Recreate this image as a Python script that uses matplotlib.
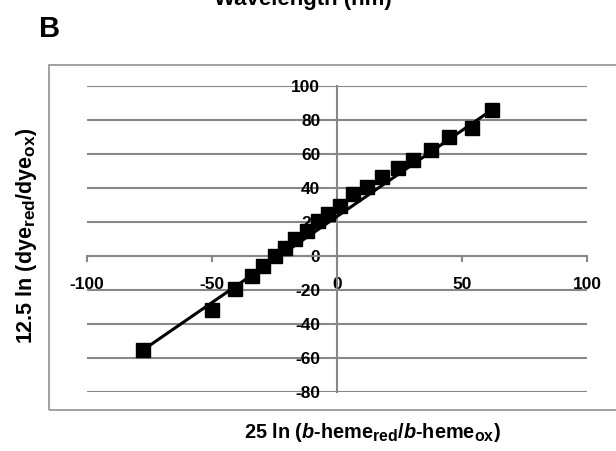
import matplotlib
matplotlib.use("Agg")
import matplotlib.pyplot as plt
import matplotlib._mathtext as mt
from matplotlib.patches import Rectangle

plt.rcParams['font.family'] = ['Liberation Sans', 'DejaVu Sans']
plt.rcParams['font.weight'] = 'bold'
plt.rcParams['axes.unicode_minus'] = False
plt.rcParams['mathtext.fontset'] = 'custom'
plt.rcParams['mathtext.rm'] = 'Liberation Sans:bold'
plt.rcParams['mathtext.bf'] = 'Liberation Sans:bold'
plt.rcParams['mathtext.it'] = 'Liberation Sans:bold:italic'
# индексы крупнее, как в Excel
mt.SHRINK_FACTOR = 0.8

# данные
heme_x = [-77.6, -50.0, -40.8, -34.0, -29.6, -24.8, -20.8, -16.8, -12.0, -7.6, -3.6,
          1.2, 6.4, 12.0, 18.0, 24.4, 30.4, 37.6, 44.8, 54.0, 62.0]
dye_y = [-55.3, -31.8, -19.6, -11.8, -5.9, 0.0, 4.7, 10.0, 14.7, 20.6, 24.7,
         29.4, 36.5, 40.5, 46.5, 51.8, 56.5, 62.4, 70.0, 75.3, 86.0]
# линия тренда (концы)
fit_x = [-77.6, 62.0]
fit_y = [-55.3, 86.0]

x_ticks = [-100, -50, 0, 50, 100]
y_ticks = [-80, -60, -40, -20, 0, 20, 40, 60, 80, 100]

W, H = 616, 451
fig = plt.figure(figsize=(W / 100, H / 100), dpi=100)

grey = '#878787'

# рамка области диаграммы
fig.patches.append(Rectangle((49 / W, 1 - 410 / H), (W + 10 - 49) / W, (410 - 65) / H,
                             transform=fig.transFigure, fill=False,
                             edgecolor='#9a9a9a', linewidth=1.3))

ax = fig.add_axes([87 / W, 1 - 392 / H, 500 / W, 306 / H])
ax.set_xlim(-100, 100)
ax.set_ylim(-80, 100)
ax.patch.set_alpha(0)

ax.spines['top'].set_visible(False)
ax.spines['right'].set_visible(False)
ax.spines['left'].set_position(('data', 0))
ax.spines['bottom'].set_position(('data', 0))
for s in ('left', 'bottom'):
    ax.spines[s].set_color(grey)
    ax.spines[s].set_linewidth(1.5)

ax.set_xticks(x_ticks)
ax.set_yticks(y_ticks)
ax.tick_params(axis='x', direction='out', length=4, width=1.5, color=grey,
               pad=11, labelsize=12.5)
ax.tick_params(axis='y', length=0, pad=12, labelsize=12.5)
for lab in ax.get_xticklabels() + ax.get_yticklabels():
    lab.set_fontweight('bold')

ax.yaxis.grid(True, color=grey, linewidth=1.5)
ax.set_axisbelow(True)

ax.plot(fit_x, fit_y, color='black', linewidth=2.2, zorder=3)
ax.plot(heme_x, dye_y, linestyle='none', marker='s', markersize=10,
        color='black', zorder=4, clip_on=False)

fig.text(27 / W, 1 - 236 / H, r'12.5 ln (dye$_{\mathrm{red}}$/dye$_{\mathrm{ox}}$)',
         rotation=90, ha='center', va='center', fontsize=15.5, fontweight='bold')
fig.text(372 / W, 1 - 432 / H,
         r'25 ln ($\mathit{b}$-heme$_{\mathrm{red}}$/$\mathit{b}$-heme$_{\mathrm{ox}}$)',
         ha='center', va='center', fontsize=14.3, fontweight='bold')

fig.text(39 / W, 1 - 37 / H, 'B', ha='left', va='baseline', fontsize=21,
         fontweight='bold')
fig.text(303 / W, 1 - 5 / H, 'Wavelength (nm)', ha='center', va='baseline',
         fontsize=16, fontweight='bold')

fig.savefig('out.png', dpi=100)
